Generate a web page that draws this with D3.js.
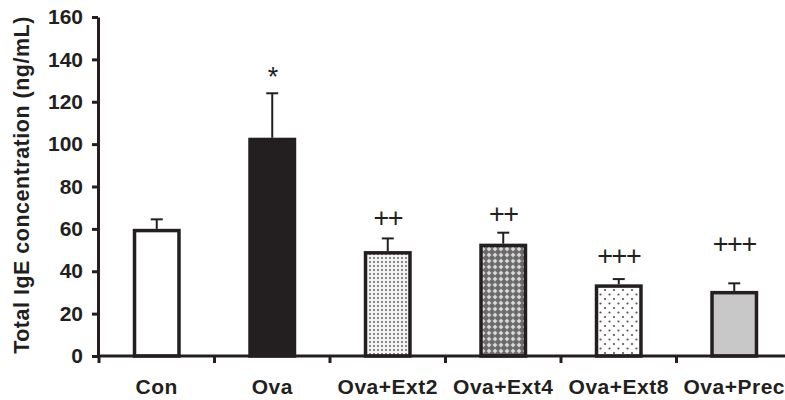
<!DOCTYPE html>
<html>
<head>
<meta charset="utf-8">
<script src="https://cdn.jsdelivr.net/npm/d3@7/dist/d3.min.js"></script>
<style>
  html, body { margin: 0; padding: 0; background: #fff; }
  svg { display: block; }
  text { font-family: "Liberation Sans", Arial, Helvetica, sans-serif; fill: #231f20; }
</style>
</head>
<body>
<svg id="chart" width="785" height="400"></svg>
<script>
// Total IgE concentration per treatment group (mean and SEM, ng/mL)
const groups = ["Con", "Ova", "Ova+Ext2", "Ova+Ext4", "Ova+Ext8", "Ova+Prec"];
const means  = [60, 103, 49.5, 53, 33.8, 30.7];
const sems   = [4.5, 21, 6, 5.2, 2.5, 3.6];
// significance markers and the level (ng/mL) at which each is centred
const marks      = ["", "*", "++", "++", "+++", "+++"];
const markLevels = [null, 135, 65, 67, 47.2, 53];
const yTicks = [0, 20, 40, 60, 80, 100, 120, 140, 160];

const ink = "#231f20";
const svg = d3.select("#chart");

// fill patterns for the treated groups
const defs = svg.append("defs");
const p2 = defs.append("pattern").attr("id", "pExt2")
  .attr("patternUnits", "userSpaceOnUse").attr("width", 4).attr("height", 4);
p2.append("rect").attr("width", 4).attr("height", 4).attr("fill", "#f4f4f4");
p2.append("rect").attr("x", 1).attr("y", 1).attr("width", 2).attr("height", 2).attr("fill", "#8a8a8a");

const p4 = defs.append("pattern").attr("id", "pExt4")
  .attr("patternUnits", "userSpaceOnUse").attr("width", 6).attr("height", 6);
p4.append("rect").attr("width", 6).attr("height", 6).attr("fill", "#6a6a6a");
p4.append("path").attr("d", "M3,0.5 L5.5,3 L3,5.5 L0.5,3 Z").attr("fill", "#d0d0d0");
p4.append("rect").attr("x", 2.5).attr("y", 2.5).attr("width", 1).attr("height", 1).attr("fill", "#fff");

const p8 = defs.append("pattern").attr("id", "pExt8")
  .attr("patternUnits", "userSpaceOnUse").attr("width", 9).attr("height", 9);
p8.append("rect").attr("width", 9).attr("height", 9).attr("fill", "#fff");
p8.append("circle").attr("cx", 2).attr("cy", 2).attr("r", 1.1).attr("fill", "#555");
p8.append("circle").attr("cx", 6.5).attr("cy", 6.5).attr("r", 1.1).attr("fill", "#555");

const fills = ["#ffffff", ink, "url(#pExt2)", "url(#pExt4)", "url(#pExt8)", "#c8c8c8"];

// scales
const x = d3.scaleBand().domain(groups).range([99, 792]).padding(0);
const y = d3.scaleLinear().domain([0, 160]).range([356, 17]);
const barW = x.bandwidth() * 0.385;

// y axis
const yAxis = svg.append("g").attr("transform", "translate(98,0)")
  .call(d3.axisLeft(y).tickValues(yTicks).tickSize(6).tickPadding(9).tickSizeOuter(0));
yAxis.select(".domain").attr("stroke", ink).attr("stroke-width", 3);
yAxis.selectAll(".tick line").attr("stroke", ink).attr("stroke-width", 3);
yAxis.selectAll(".tick text")
  .style("font-family", "'Liberation Sans', Arial, sans-serif")
  .style("font-weight", "bold").style("font-size", "21px").attr("fill", ink);

// bars
svg.append("g").selectAll("rect").data(groups).join("rect")
  .attr("x", d => x(d) + (x.bandwidth() - barW) / 2)
  .attr("y", (d, i) => y(means[i]) + 1.7)
  .attr("width", barW)
  .attr("height", (d, i) => y(0) - y(means[i]) - 1.7)
  .attr("fill", (d, i) => fills[i])
  .attr("stroke", ink).attr("stroke-width", 3.5);

// upper error bars
const eb = svg.append("g").attr("stroke", ink).attr("stroke-width", 2);
groups.forEach((g, i) => {
  const cx = x(g) + x.bandwidth() / 2;
  eb.append("line").attr("x1", cx).attr("x2", cx)
    .attr("y1", y(means[i])).attr("y2", y(means[i] + sems[i]));
  eb.append("line").attr("x1", cx - 6).attr("x2", cx + 6)
    .attr("y1", y(means[i] + sems[i])).attr("y2", y(means[i] + sems[i]));
});

// x axis with ticks at category boundaries
svg.append("line").attr("x1", 97).attr("x2", 785)
  .attr("y1", y(0)).attr("y2", y(0)).attr("stroke", ink).attr("stroke-width", 3);
const bounds = d3.range(groups.length + 1).map(k => x.range()[0] + k * x.bandwidth());
svg.append("g").selectAll("line").data(bounds).join("line")
  .attr("x1", d => d).attr("x2", d => d)
  .attr("y1", y(0)).attr("y2", y(0) + 7)
  .attr("stroke", ink).attr("stroke-width", 3);

svg.append("g").selectAll("text").data(groups).join("text")
  .attr("x", d => x(d) + x.bandwidth() / 2)
  .attr("y", 394)
  .attr("text-anchor", "middle")
  .style("font-weight", "bold").style("font-size", "21px").style("letter-spacing", "0.5px")
  .text(d => d);

// significance markers
svg.append("g").selectAll("text").data(groups).join("text")
  .filter((d, i) => marks[i] !== "")
  .attr("x", d => x(d) + x.bandwidth() / 2)
  .attr("y", d => {
    const i = groups.indexOf(d);
    return y(markLevels[i]) + (marks[i] === "*" ? 16 : 9);
  })
  .attr("text-anchor", "middle")
  .style("font-size", (d, i) => "27px")
  .style("letter-spacing", "-1.5px")
  .text(d => marks[groups.indexOf(d)]);

// y axis title
svg.append("text")
  .attr("transform", "translate(29,185) rotate(-90)")
  .attr("text-anchor", "middle")
  .style("font-weight", "bold").style("font-size", "21.5px").style("letter-spacing", "0.5px")
  .text("Total IgE concentration (ng/mL)");
</script>
</body>
</html>
